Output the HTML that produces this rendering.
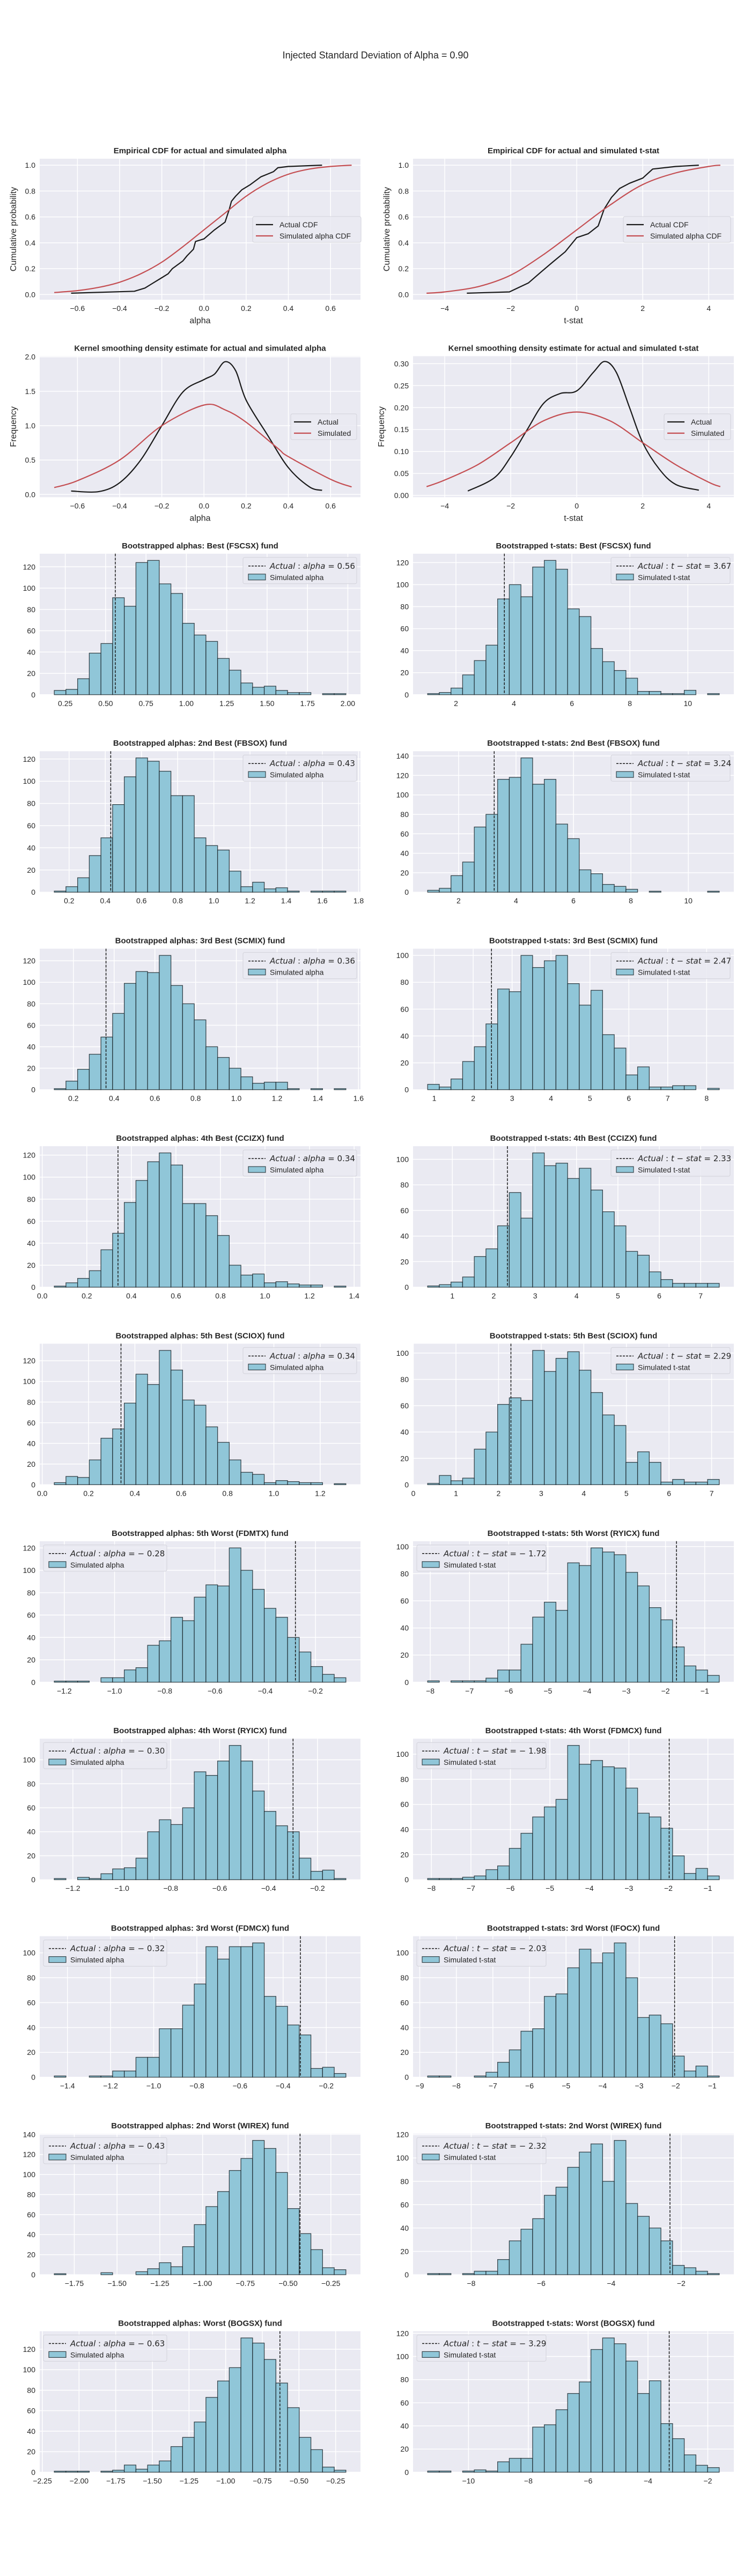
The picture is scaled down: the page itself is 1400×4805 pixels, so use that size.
<!DOCTYPE html>
<html><head><meta charset="utf-8"><style>
html,body{margin:0;padding:0;background:#fff;}
svg text{font-family:"Liberation Sans",Arial,sans-serif;fill:#262626;}
</style></head><body>
<svg id="fig" xmlns="http://www.w3.org/2000/svg" width="1400" height="4800" viewBox="0 0 1400 4800">
<rect x="0" y="0" width="1400" height="4800" fill="#ffffff"/>
<text x="700" y="109" text-anchor="middle" font-size="18">Injected Standard Deviation of Alpha = 0.90</text>
</svg>
<script>
// ---------- data: CDF / KDE ----------
const cdfAlphaSimX = [-0.71,-0.6,-0.5,-0.4,-0.3,-0.2,-0.1,0,0.1,0.2,0.3,0.4,0.5,0.6,0.7];
const cdfAlphaSimY = [0.015,0.03,0.055,0.095,0.16,0.25,0.37,0.5,0.63,0.76,0.86,0.93,0.97,0.99,1.0];
const cdfAlphaActX = [-0.63,-0.33,-0.28,-0.25,-0.2,-0.17,-0.15,-0.1,-0.08,-0.05,-0.04,0,0.05,0.1,0.12,0.13,0.15,0.18,0.22,0.27,0.3,0.33,0.35,0.4,0.56];
const cdfAlphaActY = [0.01,0.025,0.05,0.08,0.13,0.16,0.2,0.26,0.3,0.35,0.41,0.43,0.5,0.56,0.66,0.72,0.76,0.81,0.85,0.91,0.93,0.95,0.98,0.99,1.0];
const cdfTSimX = [-4.55,-4,-3,-2,-1,0,1,2,3,4,4.35];
const cdfTSimY = [0.01,0.02,0.06,0.15,0.31,0.5,0.69,0.85,0.94,0.99,1.0];
const cdfTActX = [-3.33,-2.04,-1.46,-1.1,-0.73,-0.35,0,0.35,0.65,0.83,1.05,1.3,1.6,2.0,2.3,3.0,3.7];
const cdfTActY = [0.01,0.02,0.09,0.17,0.25,0.33,0.44,0.47,0.53,0.66,0.75,0.82,0.86,0.9,0.97,0.99,1.0];
const kdeAlphaActX = [-0.63,-0.5,-0.4,-0.3,-0.2,-0.1,0,0.05,0.1,0.15,0.2,0.3,0.4,0.5,0.56];
const kdeAlphaActY = [0.05,0.04,0.17,0.5,1.0,1.49,1.67,1.75,1.93,1.8,1.37,0.87,0.39,0.11,0.06];
const kdeAlphaSimX = [-0.71,-0.6,-0.4,-0.2,0,0.1,0.2,0.35,0.4,0.6,0.7];
const kdeAlphaSimY = [0.1,0.2,0.5,1.0,1.3,1.23,1.05,0.67,0.55,0.22,0.11];
const kdeTActX = [-3.3,-2.5,-2,-1.5,-1,-0.5,0,0.5,0.85,1.2,1.6,2,2.5,3,3.7];
const kdeTActY = [0.01,0.04,0.088,0.15,0.21,0.232,0.238,0.28,0.305,0.28,0.2,0.12,0.06,0.025,0.012];
const kdeTSimX = [-4.55,-4,-3,-2,-1,0,1,2,3,4,4.35];
const kdeTSimY = [0.02,0.035,0.07,0.12,0.17,0.19,0.17,0.12,0.07,0.03,0.02];

// ---------- data: bootstrapped histograms ----------
const alphaTitles = ["Best (FSCSX)","2nd Best (FBSOX)","3rd Best (SCMIX)","4th Best (CCIZX)","5th Best (SCIOX)","5th Worst (FDMTX)","4th Worst (RYICX)","3rd Worst (FDMCX)","2nd Worst (WIREX)","Worst (BOGSX)"];
const tTitles = ["Best (FSCSX)","2nd Best (FBSOX)","3rd Best (SCMIX)","4th Best (CCIZX)","5th Best (SCIOX)","5th Worst (RYICX)","4th Worst (FDMCX)","3rd Worst (IFOCX)","2nd Worst (WIREX)","Worst (BOGSX)"];
const alphaActual = [0.56,0.43,0.36,0.34,0.34,-0.28,-0.30,-0.32,-0.43,-0.63];
const tActual = [3.67,3.24,2.47,2.33,2.29,-1.72,-1.98,-2.03,-2.32,-3.29];
const alphaBinLo = [0.182,0.118,0.106,0.054,0.052,-1.240,-1.276,-1.461,-1.867,-2.169];
const alphaBinHi = [1.988,1.730,1.538,1.363,1.311,-0.079,-0.084,-0.109,-0.162,-0.180];
const tBinLo = [1.023,0.922,0.829,0.402,0.335,-8.067,-8.096,-8.785,-9.245,-11.366];
const tBinHi = [11.084,11.078,8.324,7.449,7.179,-0.629,-0.712,-0.810,-0.912,-1.617];
const alphaCounts = [
 [4,5,15,39,48,91,83,124,126,104,95,67,56,50,34,23,11,7,8,4,2,2,0,1,1],
 [1,5,13,33,49,79,104,121,118,109,87,87,49,42,38,19,5,9,3,4,1,0,1,1,1],
 [1,8,19,33,49,71,99,110,109,125,97,80,65,40,30,20,12,6,7,7,1,0,1,0,1],
 [1,4,8,15,34,49,77,97,114,122,111,76,76,65,47,20,11,12,4,5,3,2,2,0,1],
 [2,8,7,24,45,54,79,107,97,130,111,82,77,56,41,24,12,10,2,4,3,2,2,0,1],
 [1,1,1,0,4,4,11,13,33,37,58,55,76,87,86,120,100,83,66,58,40,27,14,7,4],
 [1,0,2,1,5,9,10,18,40,50,46,60,90,87,99,112,99,74,57,45,40,18,7,8,1],
 [1,0,0,1,1,5,5,16,16,39,39,58,75,105,95,105,105,108,65,57,42,34,7,8,3],
 [1,0,0,0,2,0,0,3,6,12,8,28,50,68,83,104,116,134,126,102,66,41,25,7,5],
 [1,1,1,0,1,2,7,3,7,11,25,34,49,73,89,102,131,126,110,87,63,34,22,5,2]
];
const tCounts = [
 [1,2,6,18,31,45,87,100,89,116,122,114,78,71,42,30,22,15,3,3,1,1,4,0,1],
 [2,4,17,31,67,80,116,118,138,111,116,70,55,23,19,8,6,3,0,1,0,0,0,0,1],
 [4,2,8,21,32,49,75,73,100,91,96,100,79,63,74,41,31,11,17,2,2,3,3,0,1],
 [1,2,4,8,24,30,48,74,54,105,95,97,85,93,76,59,48,28,25,12,6,3,3,3,3],
 [1,7,3,5,27,40,61,66,64,102,86,96,101,87,70,53,45,17,25,17,2,4,2,2,4],
 [1,0,1,1,1,3,9,9,28,48,59,53,88,86,99,96,94,81,71,55,46,26,12,9,5],
 [1,1,1,2,3,8,11,25,37,50,58,64,107,92,95,90,89,73,53,50,41,19,5,9,3],
 [1,1,0,0,1,4,12,22,37,39,65,67,88,103,92,100,108,80,48,50,43,17,5,9,1],
 [1,1,0,1,3,3,13,29,39,48,68,75,92,105,112,80,115,61,50,40,29,8,6,3,1],
 [1,1,0,1,2,1,9,12,12,39,41,54,68,78,106,116,111,96,68,79,42,29,15,6,4]
];
const alphaXTicks = [
 ["0.25","0.50","0.75","1.00","1.25","1.50","1.75","2.00"],
 ["0.2","0.4","0.6","0.8","1.0","1.2","1.4","1.6","1.8"],
 ["0.2","0.4","0.6","0.8","1.0","1.2","1.4","1.6"],
 ["0.0","0.2","0.4","0.6","0.8","1.0","1.2","1.4"],
 ["0.0","0.2","0.4","0.6","0.8","1.0","1.2"],
 ["−1.2","−1.0","−0.8","−0.6","−0.4","−0.2"],
 ["−1.2","−1.0","−0.8","−0.6","−0.4","−0.2"],
 ["−1.4","−1.2","−1.0","−0.8","−0.6","−0.4","−0.2"],
 ["−1.75","−1.50","−1.25","−1.00","−0.75","−0.50","−0.25"],
 ["−2.25","−2.00","−1.75","−1.50","−1.25","−1.00","−0.75","−0.50","−0.25"]
];
const tXTicks = [
 ["2","4","6","8","10"],
 ["2","4","6","8","10"],
 ["1","2","3","4","5","6","7","8"],
 ["1","2","3","4","5","6","7"],
 ["0","1","2","3","4","5","6","7"],
 ["−8","−7","−6","−5","−4","−3","−2","−1"],
 ["−8","−7","−6","−5","−4","−3","−2","−1"],
 ["−9","−8","−7","−6","−5","−4","−3","−2","−1"],
 ["−8","−6","−4","−2"],
 ["−10","−8","−6","−4","−2"]
];
const cdfAlphaXTicks = ["−0.6","−0.4","−0.2","0.0","0.2","0.4","0.6"];
const cdfTXTicks = ["−4","−2","0","2","4"];
const cdfYTicks = ["0.0","0.2","0.4","0.6","0.8","1.0"];
const kdeAlphaYTicks = ["0.0","0.5","1.0","1.5","2.0"];
const kdeTYTicks = ["0.00","0.05","0.10","0.15","0.20","0.25","0.30"];

// ---------- rendering ----------
const NS = 'http://www.w3.org/2000/svg';
const svg = document.getElementById('fig');
function mk(tag, attrs, parent) {
  const e = document.createElementNS(NS, tag);
  for (const k in attrs) e.setAttribute(k, attrs[k]);
  (parent || svg).appendChild(e);
  return e;
}
const num = s => parseFloat(String(s).replace('−', '-'));
const RED = '#c44e52', BAR = '#90c6d8';

function makeAxes(col, row, xlim, ylim, xticks, yticks, name) {
  const left = col === 0 ? 74 : 770, top = 296 + row * 368.4, w = 598, h = 263;
  const g = mk('g', {});
  
  
  const x = v => left + (v - xlim[0]) / (xlim[1] - xlim[0]) * w;
  const y = v => top + h - (v - ylim[0]) / (ylim[1] - ylim[0]) * h;
  const bg = mk('rect', {x: left, y: top, width: w, height: h, fill: '#eaeaf2'}, g);
  
  
  xticks.forEach(t => {
    const v = num(t), px = x(v);
    if (px < left - 0.5 || px > left + w + 0.5) return;
    const gl = mk('line', {x1: px, x2: px, y1: top, y2: top + h, stroke: '#fff', 'stroke-width': 1.5}, g);
    
    
    const tl = mk('text', {x: px, y: top + h + 21, 'text-anchor': 'middle', 'font-size': 14}, g);
    
    
    tl.textContent = t;
  });
  yticks.forEach(t => {
    const v = num(t), py = y(v);
    if (py < top - 0.5 || py > top + h + 0.5) return;
    const gl = mk('line', {x1: left, x2: left + w, y1: py, y2: py, stroke: '#fff', 'stroke-width': 1.5}, g);
    
    
    const tl = mk('text', {x: left - 8, y: py + 5, 'text-anchor': 'end', 'font-size': 14}, g);
    
    
    tl.textContent = t;
  });
  return {x, y, left, top, w, h, g};
}
function title(ax, txt) {
  const t = mk('text', {x: ax.left + ax.w / 2, y: ax.top - 10, 'text-anchor': 'middle', 'font-size': 15, 'font-weight': 'bold'}, ax.g);
  
  
  t.textContent = txt;
}
function line(ax, xs, ys, color, name, smooth) {
  const P = xs.map((v, i) => [ax.x(v), ax.y(ys[i])]);
  let d = 'M' + P[0][0].toFixed(1) + ',' + P[0][1].toFixed(1);
  for (let i = 0; i < P.length - 1; i++) {
    if (!smooth) { d += ' L' + P[i + 1][0].toFixed(1) + ',' + P[i + 1][1].toFixed(1); continue; }
    const p0 = P[i - 1] || P[i], p1 = P[i], p2 = P[i + 1], p3 = P[i + 2] || P[i + 1];
    const c1 = [p1[0] + (p2[0] - p0[0]) / 6, p1[1] + (p2[1] - p0[1]) / 6];
    const c2 = [p2[0] - (p3[0] - p1[0]) / 6, p2[1] - (p3[1] - p1[1]) / 6];
    d += ' C' + c1[0].toFixed(1) + ',' + c1[1].toFixed(1) + ' ' + c2[0].toFixed(1) + ',' + c2[1].toFixed(1) + ' ' + p2[0].toFixed(1) + ',' + p2[1].toFixed(1);
  }
  const p = mk('path', {d: d, fill: 'none', stroke: color, 'stroke-width': 2.2, 'stroke-linejoin': 'round'}, ax.g);
  
  
}
function legendBox(ax, x, y, w, h) {
  const r = mk('rect', {x, y, width: w, height: h, rx: 3, fill: 'rgba(234,234,242,0.85)', stroke: '#d2d2da', 'stroke-width': 1}, ax.g);
  
  
}
function lineLegend(ax, x, y, w, labels, colors) {
  legendBox(ax, x, y, w, 48);
  labels.forEach((lab, i) => {
    const cy = y + 15 + i * 21;
    const l = mk('line', {x1: x + 6, x2: x + 38, y1: cy, y2: cy, stroke: colors[i], 'stroke-width': 2.2}, ax.g);
    
    
    const t = mk('text', {x: x + 50, y: cy + 5, 'font-size': 14}, ax.g);
    
    
    t.textContent = lab;
  });
}
function xlabel(ax, txt) {
  const t = mk('text', {x: ax.left + ax.w / 2, y: ax.top + ax.h + 44, 'text-anchor': 'middle', 'font-size': 16}, ax.g);
  
  
  t.textContent = txt;
}
function ylabel(ax, txt, xpos) {
  const cy = ax.top + ax.h / 2;
  const t = mk('text', {x: xpos, y: cy, 'text-anchor': 'middle', 'font-size': 16, transform: 'rotate(-90 ' + xpos + ' ' + cy + ')'}, ax.g);
  
  
  t.textContent = txt;
}

// Row 0: CDFs
(function () {
  const a = makeAxes(0, 0, [-0.779, 0.742], [-0.04, 1.05], cdfAlphaXTicks, cdfYTicks, 'cdf-alpha-chart');
  title(a, 'Empirical CDF for actual and simulated alpha');
  line(a, cdfAlphaActX, cdfAlphaActY, '#1a1a1a', 'actual-cdf-line', false);
  line(a, cdfAlphaSimX, cdfAlphaSimY, RED, 'simulated-cdf-line', true);
  lineLegend(a, 471, 404, 202, ['Actual CDF', 'Simulated alpha CDF'], ['#1a1a1a', RED]);
  xlabel(a, 'alpha'); ylabel(a, 'Cumulative probability', 30);
  const b = makeAxes(1, 0, [-4.96, 4.76], [-0.04, 1.05], cdfTXTicks, cdfYTicks, 'cdf-tstat-chart');
  title(b, 'Empirical CDF for actual and simulated t-stat');
  line(b, cdfTActX, cdfTActY, '#1a1a1a', 'actual-cdf-line', false);
  line(b, cdfTSimX, cdfTSimY, RED, 'simulated-cdf-line', true);
  lineLegend(b, 1162, 404, 200, ['Actual CDF', 'Simulated alpha CDF'], ['#1a1a1a', RED]);
  xlabel(b, 't-stat'); ylabel(b, 'Cumulative probability', 726);
})();
// Row 1: KDEs
(function () {
  const a = makeAxes(0, 1, [-0.779, 0.742], [-0.04, 2.01], cdfAlphaXTicks, kdeAlphaYTicks, 'kde-alpha-chart');
  title(a, 'Kernel smoothing density estimate for actual and simulated alpha');
  line(a, kdeAlphaActX, kdeAlphaActY, '#1a1a1a', 'actual-kde-line', true);
  line(a, kdeAlphaSimX, kdeAlphaSimY, RED, 'simulated-kde-line', true);
  lineLegend(a, 542, 772, 123, ['Actual', 'Simulated'], ['#1a1a1a', RED]);
  xlabel(a, 'alpha'); ylabel(a, 'Frequency', 30);
  const b = makeAxes(1, 1, [-4.96, 4.76], [-0.004, 0.317], cdfTXTicks, kdeTYTicks, 'kde-tstat-chart');
  title(b, 'Kernel smoothing density estimate for actual and simulated t-stat');
  line(b, kdeTActX, kdeTActY, '#1a1a1a', 'actual-kde-line', true);
  line(b, kdeTSimX, kdeTSimY, RED, 'simulated-kde-line', true);
  lineLegend(b, 1238, 772, 124, ['Actual', 'Simulated'], ['#1a1a1a', RED]);
  xlabel(b, 't-stat'); ylabel(b, 'Frequency', 716);
})();

// Histograms
function hist(col, i, counts, lo, hi, actual, xt, ttl, kind) {
  const span = hi - lo, m = 0.05 * span;
  const ymax = Math.max(...counts) * 1.05;
  const yt = [];
  for (let v = 0; v <= ymax; v += 20) yt.push(String(v));
  const ax = makeAxes(col, i + 2, [lo - m, hi + m], [0, ymax], xt, yt, 'histogram-' + kind + '-' + (i + 1));
  title(ax, 'Bootstrapped ' + (kind === 'alpha' ? 'alphas' : 't-stats') + ': ' + ttl + ' fund');
  const bw = span / counts.length;
  counts.forEach((c, k) => {
    if (c <= 0) return;
    const x0 = ax.x(lo + k * bw), x1 = ax.x(lo + (k + 1) * bw), y0 = ax.y(c);
    const r = mk('rect', {x: x0, y: y0, width: x1 - x0, height: ax.y(0) - y0, fill: BAR, stroke: 'rgba(20,30,35,0.8)', 'stroke-width': 1.3}, ax.g);
    
    
  });
  const ax0 = ax.x(actual);
  const vl = mk('line', {x1: ax0, x2: ax0, y1: ax.top, y2: ax.top + ax.h, stroke: '#1a1a1a', 'stroke-width': 1.5, 'stroke-dasharray': '5,2.5'}, ax.g);
  
  
  const neg = actual < 0;
  const w = kind === 'alpha' ? (neg ? 230 : 212) : (neg ? 241 : 222);
  const lx = neg ? ax.left + 7 : ax.left + ax.w - 7 - w, ly = ax.top + 7;
  legendBox(ax, lx, ly, w, 49);
  const dl = mk('line', {x1: lx + 10, x2: lx + 42, y1: ly + 16, y2: ly + 16, stroke: '#1a1a1a', 'stroke-width': 1.5, 'stroke-dasharray': '4,2'}, ax.g);
  
  
  const pr = mk('rect', {x: lx + 10, y: ly + 31, width: 32, height: 11, fill: BAR, stroke: 'rgba(20,30,35,0.8)', 'stroke-width': 1.2}, ax.g);
  
  
  const t1 = mk('text', {x: lx + 50, y: ly + 21, 'font-size': 15, style: 'font-family:"DejaVu Sans",sans-serif'}, ax.g);
  
  
  const valTxt = (neg ? '− ' : '') + Math.abs(actual).toFixed(2);
  t1.innerHTML = '<tspan font-style="italic">Actual</tspan> : <tspan font-style="italic">' +
    (kind === 'alpha' ? 'alpha' : 't − stat') + '</tspan> = ' + valTxt;
  const t2 = mk('text', {x: lx + 50, y: ly + 42, 'font-size': 14}, ax.g);
  
  
  t2.textContent = kind === 'alpha' ? 'Simulated alpha' : 'Simulated t-stat';
}
for (let i = 0; i < 10; i++) {
  hist(0, i, alphaCounts[i], alphaBinLo[i], alphaBinHi[i], alphaActual[i], alphaXTicks[i], alphaTitles[i], 'alpha');
  hist(1, i, tCounts[i], tBinLo[i], tBinHi[i], tActual[i], tXTicks[i], tTitles[i], 'tstat');
}
</script>
</body></html>
